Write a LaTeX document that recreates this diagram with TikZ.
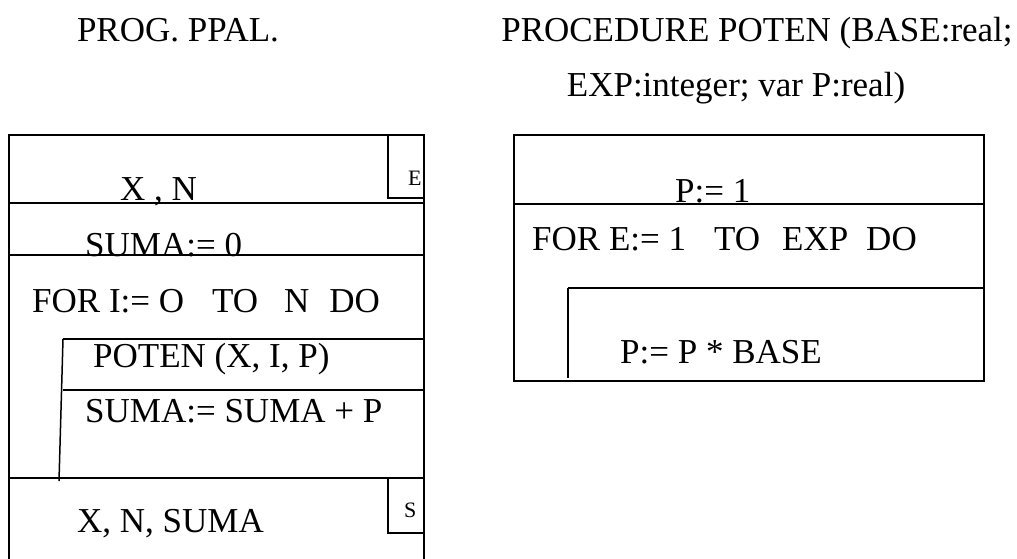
\documentclass[tikz,border=0pt]{standalone}
\usepackage{fontspec}
\setmainfont{Liberation Serif}
\newfontfamily\timesfont{Liberation Serif}
\usetikzlibrary{positioning}
\tikzstyle{frame} = [draw, line width=1.5pt]
\tikzstyle{heading} = [inner sep=0pt, anchor=base, font=\timesfont\fontsize{35}{40}\selectfont]
\tikzstyle{stmt} = [inner sep=0pt, anchor=base west, font=\timesfont\fontsize{35}{40}\selectfont]
\tikzstyle{io} = [inner sep=0pt, anchor=base west, font=\timesfont\fontsize{22}{26}\selectfont]

\begin{document}
\begin{tikzpicture}[x=1pt, y=-1pt]
\useasboundingbox (0,0) rectangle (1017,559);

\node [heading] (prog) at (178,42) {PROG. PPAL.};
\node [heading] (proc) at (757,42) {PROCEDURE POTEN (BASE:real;};
\node [heading] (args) at (736,97) {EXP:integer; var P:real)};

% main program
\coordinate (m1) at (9,135);   \coordinate (m1r) at (424,135);
\coordinate (m2) at (9,203);   \coordinate (m2r) at (424,203);
\coordinate (m3) at (9,255);   \coordinate (m3r) at (424,255);
\coordinate (m4) at (63,339);  \coordinate (m4r) at (424,339);
\coordinate (m5) at (63,390);  \coordinate (m5r) at (424,390);
\coordinate (m6) at (9,478);   \coordinate (m6r) at (424,478);
\coordinate (m7) at (9,565);   \coordinate (m7r) at (424,565);
\coordinate (loopend) at (59,481);
\coordinate (ein) at (388,135); \coordinate (ein2) at (388,198); \coordinate (ein3) at (424,198);
\coordinate (sout) at (388,478); \coordinate (sout2) at (388,533); \coordinate (sout3) at (424,533);

\path [frame] (m7) -- (m1) -- (m1r) -- (m7r);
\foreach \r in {m2,m3,m4,m5,m6}
	\path [frame] (\r) -- (\r r);
\path [frame] (m4) -- (loopend);
\path [frame] (ein) -- (ein2) -- (ein3);
\path [frame] (sout) -- (sout2) -- (sout3);

\node [stmt] (xn) at (120,200) {X , N};
\node [io] (e) at (408,185) {E};
\node [stmt] (suma0) at (85,256) {SUMA:= 0};
\node [stmt] (fori) at (32,312) {FOR I:= O\hspace{28pt}TO\hspace{26pt}N\hspace{20pt}DO};
\node [stmt] (poten) at (93,367) {POTEN (X, I, P)};
\node [stmt] (sumap) at (85,422) {SUMA:= SUMA + P};
\node [stmt] (xns) at (77,532) {X, N, SUMA};
\node [io] (s) at (404,517) {S};

% procedure
\coordinate (p1) at (514,135);  \coordinate (p1r) at (984,381);
\coordinate (p2) at (514,204);  \coordinate (p2r) at (984,204);
\coordinate (p3) at (568,288);  \coordinate (p3r) at (984,288);
\coordinate (p4) at (568,378);

\path [frame] (p1) rectangle (p1r);
\path [frame] (p2) -- (p2r);
\path [frame] (p3) -- (p3r);
\path [frame] (p3) -- (p4);

\node [stmt] (pone) at (675,202) {P:= 1};
\node [stmt] (fore) at (532,250) {FOR E:= 1\hspace{28pt}TO\hspace{22pt}EXP\hspace{18pt}DO};
\node [stmt] (pbase) at (620,363) {P:= P * BASE};

\end{tikzpicture}
\end{document}
